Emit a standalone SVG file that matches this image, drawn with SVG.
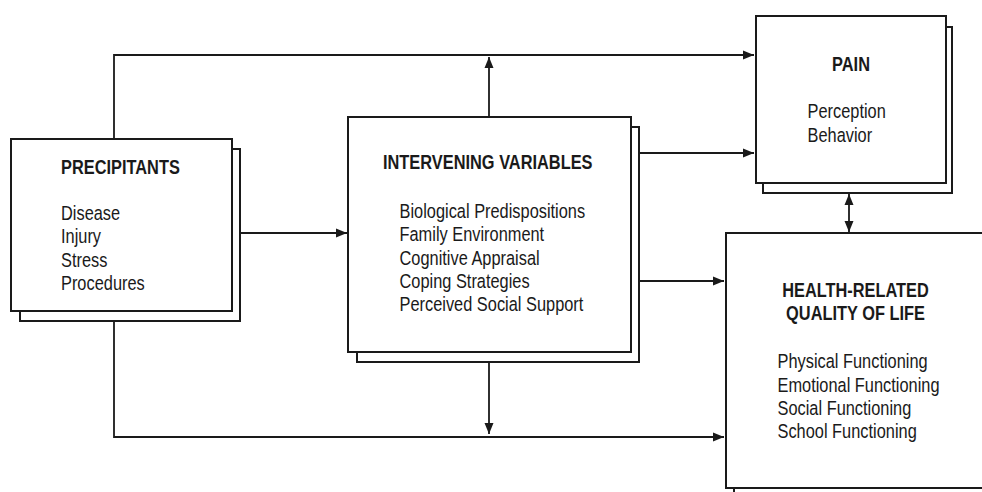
<svg xmlns="http://www.w3.org/2000/svg" width="982" height="492" viewBox="0 0 982 492">
<style>
.box{fill:#fff;stroke:#1a1a1a;stroke-width:2}
.con{fill:none;stroke:#1a1a1a;stroke-width:1.8}
text{font-family:"Liberation Sans",Arial,sans-serif;font-size:19.5px;fill:#1a1a1a}
.t{font-weight:bold}
</style>
<defs>
<marker id="ah" markerUnits="userSpaceOnUse" markerWidth="12" markerHeight="10" refX="11" refY="5" orient="auto-start-reverse">
<path d="M0,0.5 L11,5 L0,9.5 z" fill="#1a1a1a"/>
</marker>
</defs>
<rect width="982" height="492" fill="#fff"/>
<g id="connectors">
<path class="con" d="M114,139 V55 H754" marker-end="url(#ah)"/>
<path class="con" d="M489,117 V57" marker-end="url(#ah)"/>
<path class="con" d="M240,233 H347" marker-end="url(#ah)"/>
<path class="con" d="M639,153 H754" marker-end="url(#ah)"/>
<path class="con" d="M639,281 H724" marker-end="url(#ah)"/>
<path class="con" d="M114,321 V437 H724" marker-end="url(#ah)"/>
<path class="con" d="M489,362 V434" marker-end="url(#ah)"/>
<path class="con" d="M849,194 V232" marker-start="url(#ah)" marker-end="url(#ah)"/>
</g>
<g id="precipitants">
<rect class="box" x="20" y="149" width="220" height="172"/>
<rect class="box" x="11" y="139" width="221" height="172"/>
<g transform="translate(61,0) scale(0.84,1)">
<text class="t" x="0" y="174">PRECIPITANTS</text>
<text x="0" y="220">Disease</text>
<text x="0" y="243.5">Injury</text>
<text x="0" y="267">Stress</text>
<text x="0" y="290.5">Procedures</text>
</g>
</g>
<g id="intervening">
<rect class="box" x="357" y="127" width="282" height="235"/>
<rect class="box" x="348" y="117" width="283" height="235"/>
<g transform="translate(383,0) scale(0.84,1)">
<text class="t" x="0" y="169">INTERVENING VARIABLES</text>
</g>
<g transform="translate(399.5,0) scale(0.84,1)">
<text x="0" y="218">Biological Predispositions</text>
<text x="0" y="241.3">Family Environment</text>
<text x="0" y="264.6">Cognitive Appraisal</text>
<text x="0" y="287.9">Coping Strategies</text>
<text x="0" y="311.2">Perceived Social Support</text>
</g>
</g>
<g id="pain">
<rect class="box" x="763" y="27" width="189" height="166"/>
<rect class="box" x="756" y="16" width="190" height="167"/>
<g transform="translate(851,0) scale(0.84,1)">
<text class="t" x="0" y="71" text-anchor="middle">PAIN</text>
</g>
<g transform="translate(807.5,0) scale(0.84,1)">
<text x="0" y="118.5">Perception</text>
<text x="0" y="141.8">Behavior</text>
</g>
</g>
<g id="hrqol">
<rect class="box" x="734" y="242" width="270" height="270"/>
<rect class="box" x="726" y="233" width="270" height="255"/>
<g transform="translate(855.5,0) scale(0.84,1)">
<text class="t" x="0" y="297.5" text-anchor="middle">HEALTH-RELATED</text>
<text class="t" x="0" y="320.5" text-anchor="middle">QUALITY OF LIFE</text>
</g>
<g transform="translate(777.5,0) scale(0.84,1)">
<text x="0" y="368.5">Physical Functioning</text>
<text x="0" y="391.8">Emotional Functioning</text>
<text x="0" y="415.1">Social Functioning</text>
<text x="0" y="438.4">School Functioning</text>
</g>
</g>
</svg>
